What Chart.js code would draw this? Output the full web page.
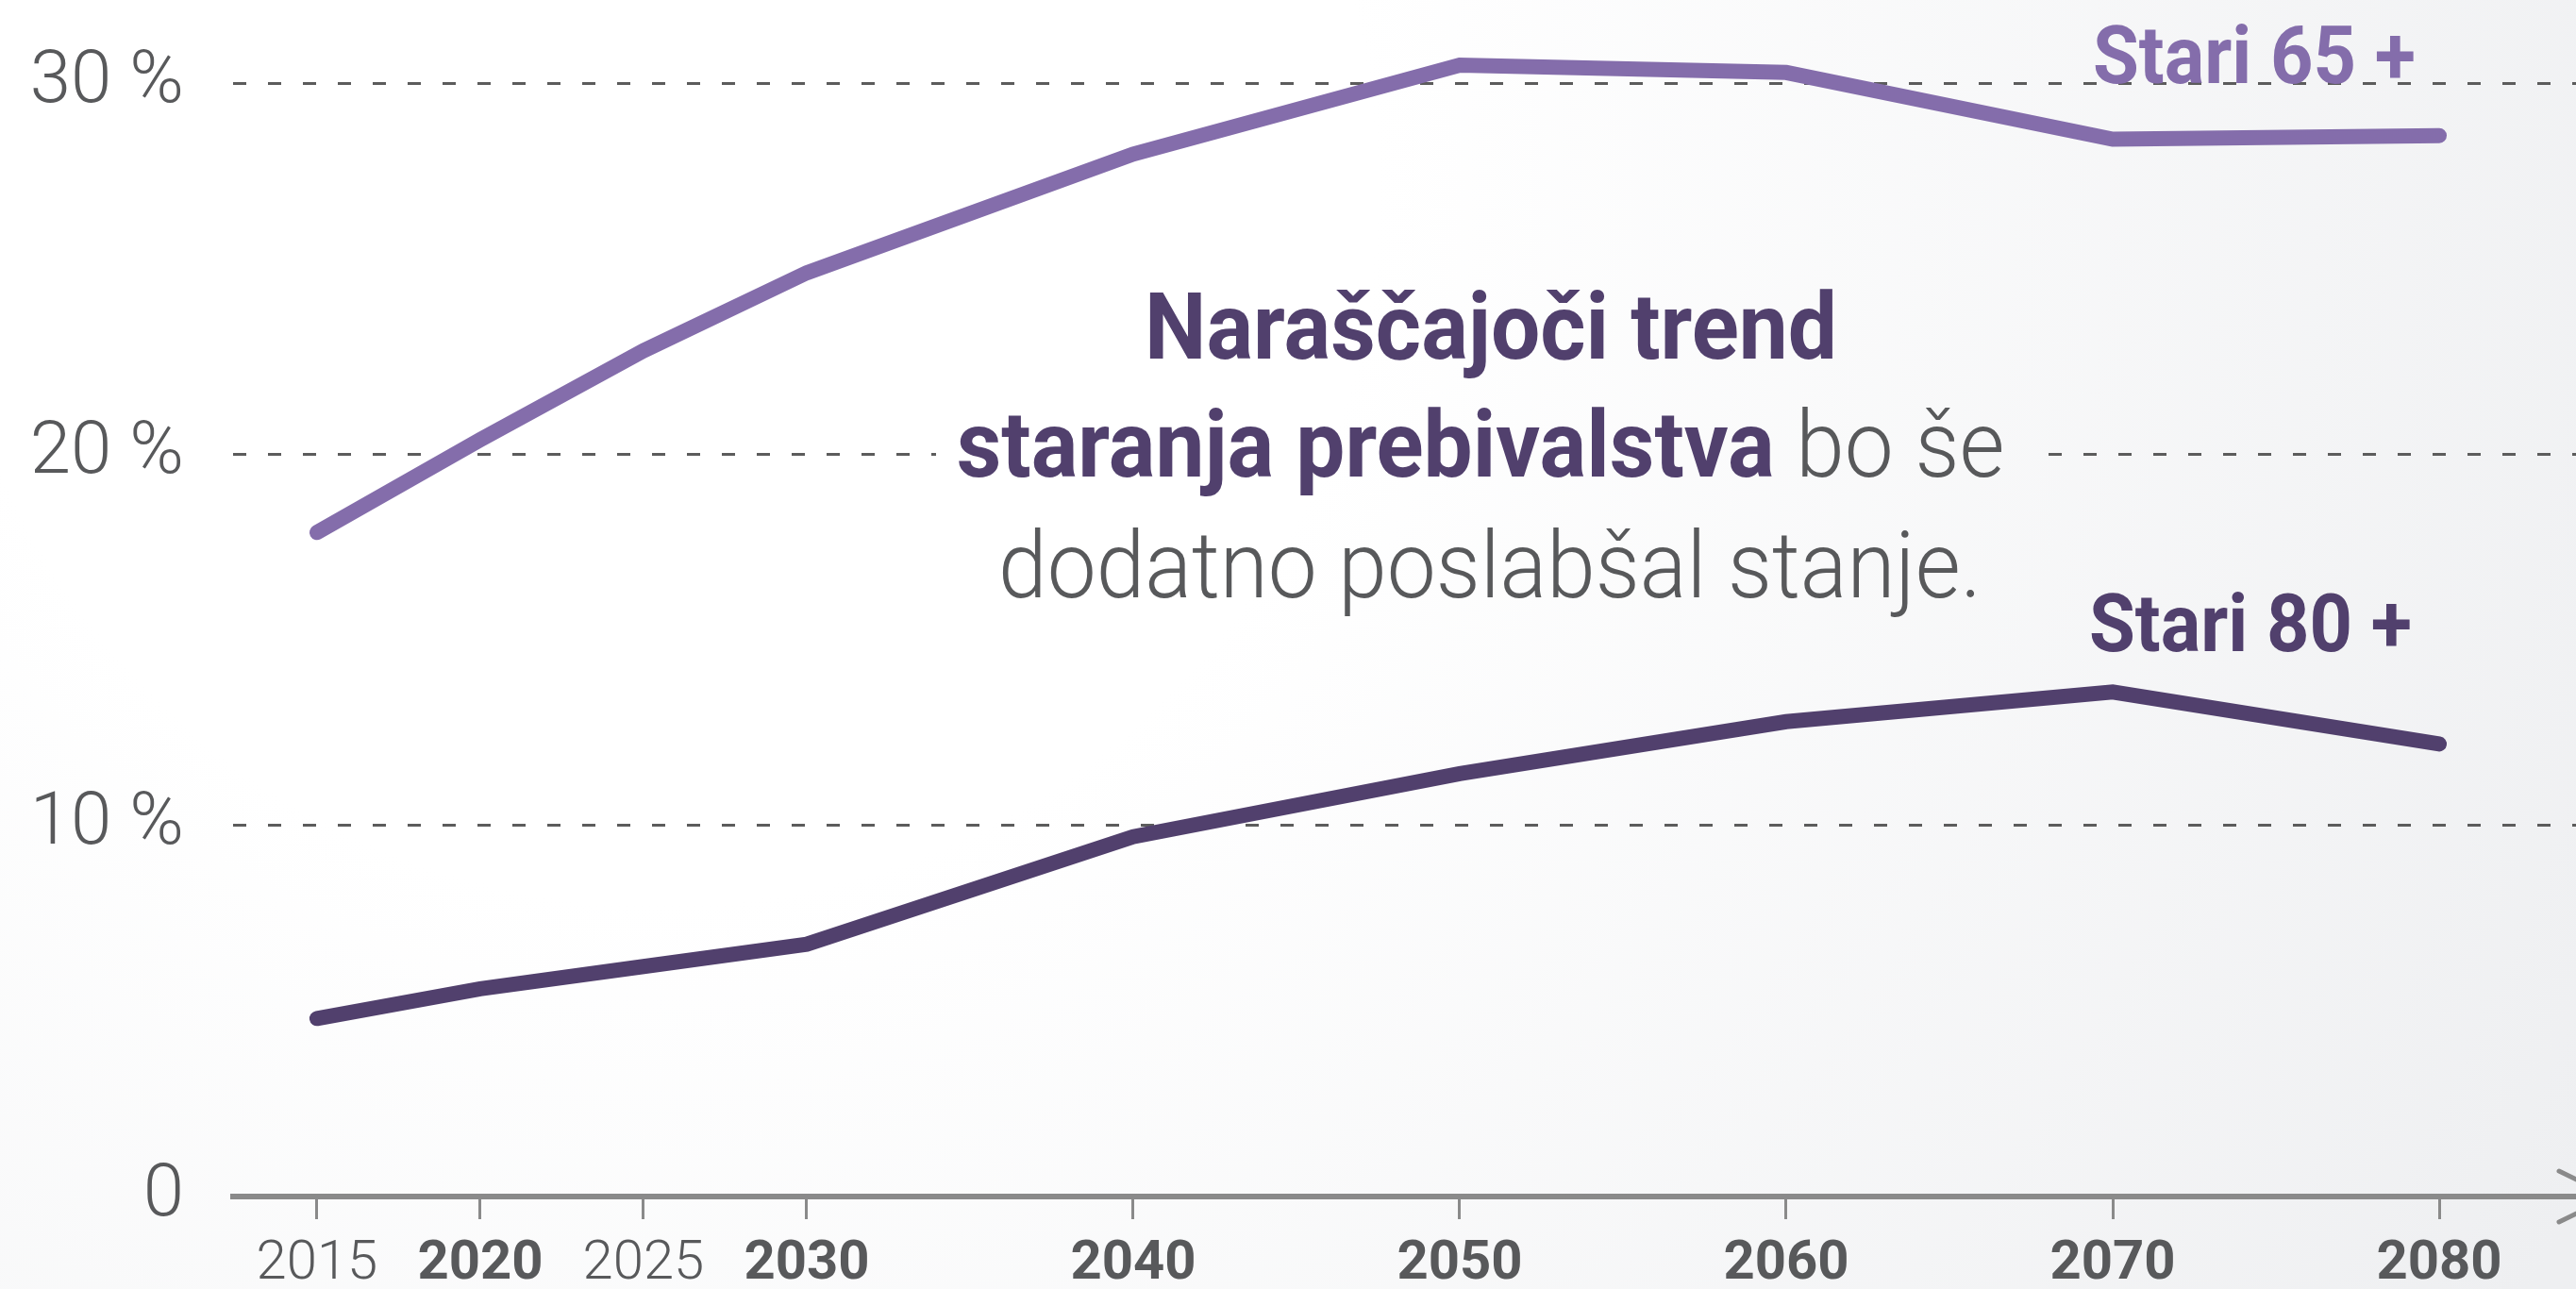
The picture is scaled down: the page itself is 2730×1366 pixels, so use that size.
<!DOCTYPE html>
<html>
<head>
<meta charset="utf-8">
<title>Staranje prebivalstva</title>
<script src="https://cdn.jsdelivr.net/npm/chart.js@4.4.1/dist/chart.umd.min.js"></script>
<style>
  html, body { margin: 0; padding: 0; overflow: hidden; background: #ffffff; }
  #wrap { position: relative; width: 2730px; height: 1366px; }
</style>
</head>
<body>
<div id="wrap"><canvas id="myChart"></canvas></div>
<script>
'use strict';

//Data
var years = [2015, 2020, 2025, 2030, 2040, 2050, 2060, 2070, 2080];
var stari65 = [17.9, 20.4, 22.8, 24.9, 28.1, 30.5, 30.3, 28.5, 28.6];
var stari80 = [4.8, 5.6, 6.2, 6.8, 9.7, 11.4, 12.8, 13.6, 12.2];
var yTicks = [0, 10, 20, 30];
var boldYears = [2020, 2030, 2040, 2050, 2060, 2070, 2080];

//Colours + fonts
var col65 = '#846dab';
var col80 = '#51406d';
var greyText = '#58595b';
var axisGrey = '#8a8a8a';
var fontFam = 'Roboto, "Open Sans", sans-serif';

function toPoints(values) {
  let pts = [];
  for (let i = 0; i < years.length; i++) {
    pts.push({ x: years[i], y: values[i] });
  }
  return pts;
}

//page background (soft grey gradient)
function makeBg(ctx) {
  let g = ctx.createRadialGradient(700, 200, 0, 700, 200, 2300);
  g.addColorStop(0, '#ffffff');
  g.addColorStop(0.33, '#ffffff');
  g.addColorStop(1, '#eeeff1');
  return g;
}

//draw text squeezed horizontally (the original font is condensed)
function drawSqueezed(ctx, text, x, y, sx) {
  ctx.save();
  ctx.translate(x, y);
  ctx.scale(sx, 1);
  ctx.fillText(text, 0, 0);
  ctx.restore();
}

var decorPlugin = {
  id: 'decor',
  beforeDraw(chart) {
    let ctx = chart.ctx;
    ctx.save();
    ctx.fillStyle = makeBg(ctx);
    ctx.fillRect(0, 0, chart.width, chart.height);
    ctx.restore();
  },
  beforeDatasetsDraw(chart) {
    //box behind the note hides the grid line
    let ctx = chart.ctx;
    ctx.save();
    ctx.fillStyle = makeBg(ctx);
    ctx.fillRect(992, 420, 1176, 110);
    ctx.restore();
  },
  afterDatasetsDraw(chart) {
    let ctx = chart.ctx;
    ctx.save();
    ctx.textBaseline = 'alphabetic';
    ctx.textAlign = 'left';

    //note in the middle
    let bold = 'bold 98px ' + fontFam;
    let light = '300 98px ' + fontFam;
    ctx.font = bold;
    let w1 = ctx.measureText('Naraščajoči trend').width;
    let sx = 734 / w1;
    ctx.fillStyle = col80;
    drawSqueezed(ctx, 'Naraščajoči trend', 1580 - 734 / 2, 380, sx);

    let partA = 'staranja prebivalstva';
    let partB = ' bo še';
    let wa = ctx.measureText(partA).width * sx;
    ctx.font = light;
    let wb = ctx.measureText(partB).width * sx;
    let left2 = 1569 - (wa + wb) / 2;
    ctx.font = bold;
    ctx.fillStyle = col80;
    drawSqueezed(ctx, partA, left2, 505, sx);
    ctx.font = light;
    ctx.fillStyle = greyText;
    drawSqueezed(ctx, partB, left2 + wa, 505, sx);

    let line3 = 'dodatno poslabšal stanje.';
    let w3 = ctx.measureText(line3).width * sx;
    drawSqueezed(ctx, line3, 1579 - w3 / 2, 633, sx);

    //series labels
    ctx.font = 'bold 86px ' + fontFam;
    let ws = ctx.measureText('Stari 65 +').width;
    let sx2 = 342 / ws;
    ctx.fillStyle = col65;
    drawSqueezed(ctx, 'Stari 65 +', 2218, 88, sx2);
    ctx.fillStyle = col80;
    drawSqueezed(ctx, 'Stari 80 +', 2214, 690, sx2);
    ctx.restore();
  },
  afterDraw(chart) {
    //arrow head at the end of the time axis
    let ctx = chart.ctx;
    let a = chart.chartArea;
    ctx.save();
    ctx.strokeStyle = axisGrey;
    ctx.lineWidth = 5;
    ctx.lineCap = 'round';
    ctx.beginPath();
    ctx.moveTo(a.right - 18, a.bottom - 27);
    ctx.lineTo(a.right + 38, a.bottom);
    ctx.lineTo(a.right - 18, a.bottom + 27);
    ctx.stroke();
    ctx.restore();
  }
};

var ctx = document.getElementById('myChart').getContext('2d');
//eslint-disable-next-line no-undef, no-unused-vars
var chart = new Chart(ctx, {
  type: 'line',
  data: {
    datasets: [{
      label: 'Stari 65 +',
      data: toPoints(stari65),
      borderColor: col65,
      borderWidth: 16,
      borderCapStyle: 'round',
      borderJoinStyle: 'miter',
      pointRadius: 0,
      tension: 0,
      clip: false
    }, {
      label: 'Stari 80 +',
      data: toPoints(stari80),
      borderColor: col80,
      borderWidth: 16,
      borderCapStyle: 'round',
      borderJoinStyle: 'miter',
      pointRadius: 0,
      tension: 0,
      clip: false
    }]
  },
  options: {
    responsive: true,
    maintainAspectRatio: false,
    animation: false,
    events: [],
    layout: { padding: { top: 10, right: 0, bottom: 0, left: 0 } },
    plugins: {
      legend: { display: false },
      tooltip: { enabled: false }
    },
    scales: {
      x: {
        type: 'linear',
        min: 2012.43,
        max: 2084.19,
        afterBuildTicks: function (scale) {
          scale.ticks = years.map(function (y) { return { value: y }; });
        },
        afterFit: function (scale) {
          scale.height = 98;
          scale.paddingLeft = 0;
          scale.paddingRight = 0;
        },
        border: { display: true, color: axisGrey, width: 6 },
        grid: {
          drawOnChartArea: false,
          drawTicks: true,
          tickLength: 24,
          tickWidth: 3,
          tickColor: axisGrey
        },
        ticks: {
          autoSkip: false,
          maxRotation: 0,
          padding: 14,
          color: greyText,
          callback: function (v) { return String(v); },
          font: function (c) {
            let isBold = c.tick && boldYears.includes(c.tick.value);
            return { family: fontFam, size: 58, weight: isBold ? 'bold' : '300' };
          }
        }
      },
      y: {
        min: 0,
        max: 32,
        afterBuildTicks: function (scale) {
          scale.ticks = yTicks.map(function (v) { return { value: v }; });
        },
        afterFit: function (scale) {
          scale.width = 247;
          scale.paddingTop = 0;
          scale.paddingBottom = 0;
        },
        border: { display: false, dash: [14, 23] },
        grid: {
          drawTicks: false,
          lineWidth: 3,
          color: function (c) {
            return (c.tick && c.tick.value === 0) ? 'rgba(0,0,0,0)' : '#5c5c5c';
          }
        },
        ticks: {
          padding: 52,
          color: greyText,
          font: { family: fontFam, size: 78, weight: '300' },
          callback: function (v) { return v === 0 ? '0' : v + ' %'; }
        }
      }
    }
  },
  plugins: [decorPlugin]
});
</script>
</body>
</html>
